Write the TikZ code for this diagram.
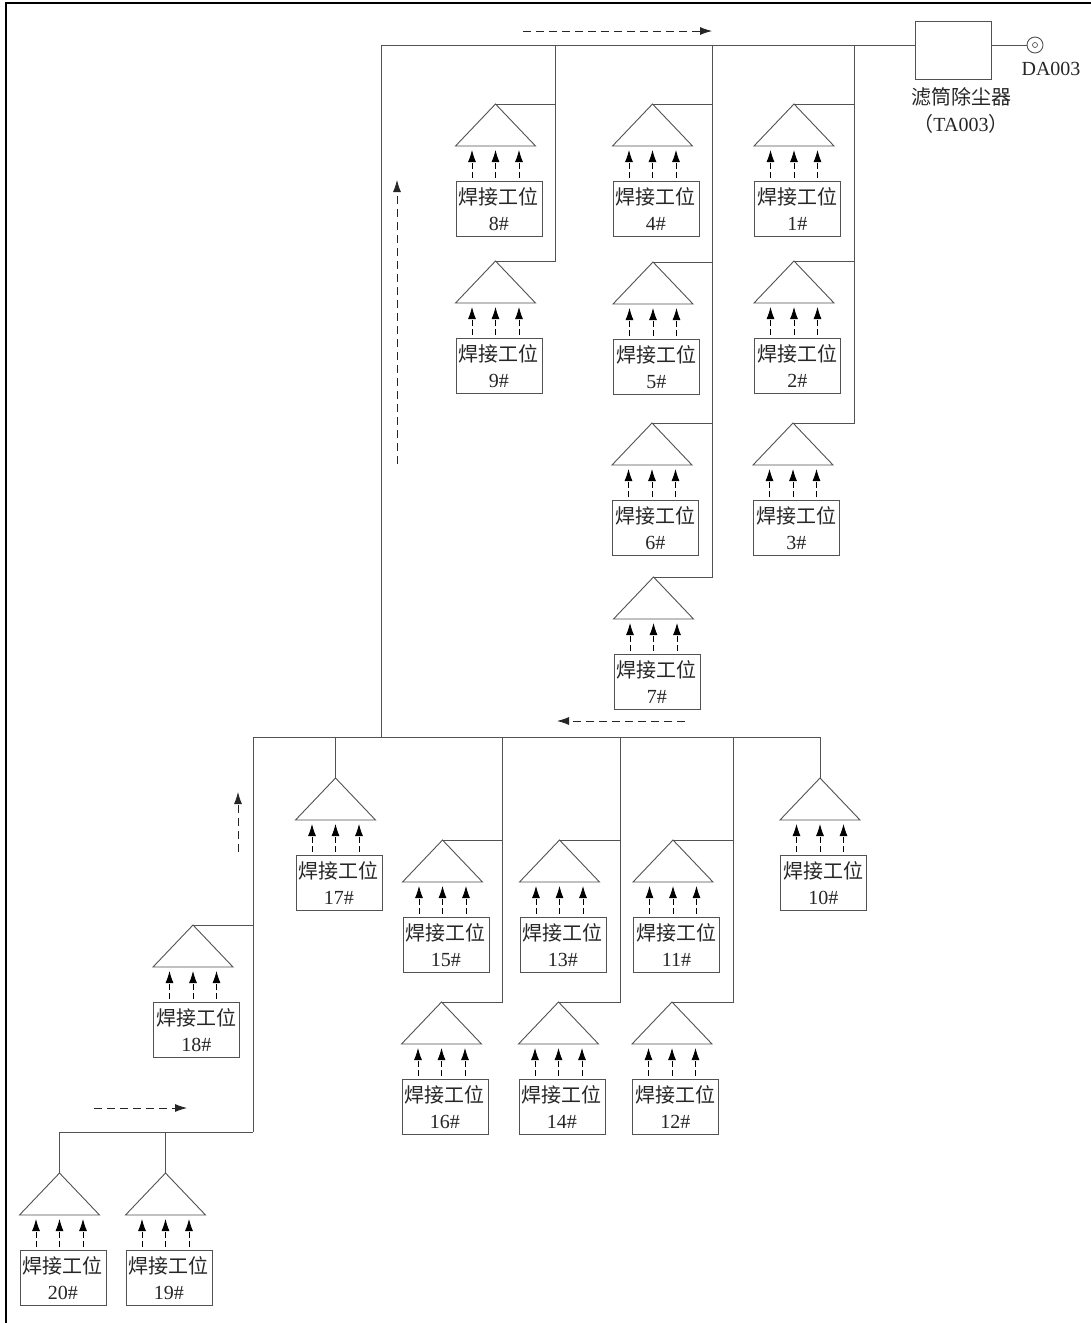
\documentclass[tikz,border=0pt]{standalone}
\usepackage{fontspec}
\setmainfont{Liberation Serif}
\newfontfamily\cjk{Noto Sans CJK SC}
\usetikzlibrary{arrows.meta,calc}
\tikzset{x=1pt,y=-1pt,
 pipe/.style={draw=black!68,line width=1pt},
 unitbox/.style={draw=black!68,line width=0.9pt,minimum width=86pt,minimum height=55pt,inner sep=0pt,align=center,anchor=north west,font=\fontsize{20}{26}\selectfont,text=black!85},
 hood/.style={draw=black!68,line width=0.9pt},
 inflow/.style={draw=black,line width=0.8pt,dash pattern=on 6pt off 3.5pt,-{Latex[length=12pt,width=8pt]}},
 flowarrow/.style={draw=black!85,line width=0.8pt,dash pattern=on 8pt off 5pt,-{Latex[length=12pt,width=8pt]}},
 lbl/.style={inner sep=0pt,font=\fontsize{20}{20}\selectfont,text=black!85}
}
\newcommand{\wunit}[3]{% id, apex x, apex y
 \coordinate (a#1) at (#2,#3);
 \coordinate (l#1) at ($(a#1)+(-40,42)$);
 \coordinate (r#1) at ($(a#1)+(40,42)$);
 \node[unitbox] (b#1) at ($(a#1)+(-40,77)$) {{\cjk 焊接工位}\\#1\#};
 \draw[hood] (a#1) -- (l#1) -- (r#1) -- cycle;
 \foreach \dx in {-23.5,0,23.5}{
  \draw[inflow] ($(a#1)+(\dx,74)$) -- ($(a#1)+(\dx,46)$);
 }
}
\begin{document}
\begin{tikzpicture}
\useasboundingbox (0,0) rectangle (1091,1323);
\fill[white] (0,0) rectangle (1091,1323);
% frame
\coordinate (fa) at (6,1323);\coordinate (fb) at (6,3);\coordinate (fc) at (1091,3);
\draw[black,line width=2pt] (fa) -- (fb) -- (fc);
% units
\wunit{8}{495.5}{104}\wunit{4}{652.5}{104}\wunit{1}{794}{104}
\wunit{9}{495.5}{261}\wunit{5}{653}{262}\wunit{2}{794}{261}
\wunit{6}{652}{423}\wunit{3}{793}{423}
\wunit{7}{653.5}{577}
\wunit{10}{820}{778}\wunit{17}{335.5}{778}
\wunit{15}{442.5}{840}\wunit{13}{559.5}{840}\wunit{11}{673}{840}
\wunit{16}{441.5}{1002}\wunit{14}{558.5}{1002}\wunit{12}{672}{1002}
\wunit{18}{193}{925}
\wunit{20}{59.5}{1173}\wunit{19}{165.5}{1173}
% filter and outlet
\node[draw=black!68,line width=0.9pt,minimum width=76pt,minimum height=58pt,inner sep=0pt] (filter) at (953,50) {};
\node[draw=black!68,line width=0.9pt,circle,minimum size=16pt,inner sep=0pt] (fan) at (1035,45) {};
\node[draw=black!68,line width=0.7pt,circle,minimum size=5pt,inner sep=0pt] (fanin) at (1035,45) {};
\node[lbl] (fanlbl) at (1051,69) {DA003};
\node[lbl] (flt1) at (961,97) {\cjk 滤筒除尘器};
\node[lbl] (flt2) at (961,124) {{\cjk （}TA003{\cjk ）}};
% trunk coordinates
\coordinate (t381) at (381,45);\coordinate (b381) at (381,737);
\coordinate (t555) at (555,45);\coordinate (t712) at (712,45);\coordinate (t854) at (854,45);
\coordinate (inlet) at (915,45);
\coordinate (m253) at (253,737);\coordinate (m820) at (820,737);\coordinate (m335) at (335.5,737);
\coordinate (m502) at (502,737);\coordinate (m620) at (620,737);\coordinate (m733) at (733,737);
\coordinate (g253) at (253,1132);\coordinate (g59) at (59.5,1132);\coordinate (g165) at (165.5,1132);
% main
\draw[pipe] (b381) -- (t381) -- (filter.west |- t381);
\draw[pipe] (filter.east |- fan) -- (fan.west);
\draw[pipe] (t555) -- (t555 |- a9) -- (a9);
\draw[pipe] (a8) -- (a8 -| t555);
\draw[pipe] (t712) -- (t712 |- a7) -- (a7);
\draw[pipe] (a4) -- (a4 -| t712);
\draw[pipe] (a5) -- (a5 -| t712);
\draw[pipe] (a6) -- (a6 -| t712);
\draw[pipe] (t854) -- (t854 |- a3) -- (a3);
\draw[pipe] (a1) -- (a1 -| t854);
\draw[pipe] (a2) -- (a2 -| t854);
% lower manifold
\draw[pipe] (g253) -- (m253) -- (m820) -- (a10);
\draw[pipe] (m335) -- (a17);
\draw[pipe] (m502) -- (m502 |- a16) -- (a16);
\draw[pipe] (a15) -- (a15 -| m502);
\draw[pipe] (m620) -- (m620 |- a14) -- (a14);
\draw[pipe] (a13) -- (a13 -| m620);
\draw[pipe] (m733) -- (m733 |- a12) -- (a12);
\draw[pipe] (a11) -- (a11 -| m733);
\draw[pipe] (a18) -- (a18 -| g253);
\draw[pipe] (a20) -- (g59) -- (g253);
\draw[pipe] (a19) -- (g165);
% flow direction arrows
\coordinate (f1a) at (523,31);\coordinate (f1b) at (712,31);
\coordinate (f2a) at (397,464);\coordinate (f2b) at (397,180);
\coordinate (f3a) at (685,721);\coordinate (f3b) at (557,721);
\coordinate (f4a) at (238,852);\coordinate (f4b) at (238,792);
\coordinate (f5a) at (94,1108);\coordinate (f5b) at (187,1108);
\draw[flowarrow] (f1a) -- (f1b);
\draw[flowarrow] (f2a) -- (f2b);
\draw[flowarrow] (f3a) -- (f3b);
\draw[flowarrow] (f4a) -- (f4b);
\draw[flowarrow] (f5a) -- (f5b);
\end{tikzpicture}
\end{document}
